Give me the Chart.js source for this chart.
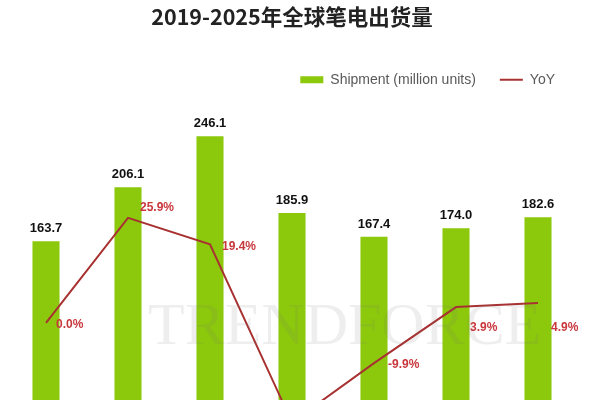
<!DOCTYPE html>
<html>
<head>
<meta charset="utf-8">
<script src="https://cdn.jsdelivr.net/npm/chart.js@4.4.1/dist/chart.umd.min.js"></script>
<style>
  html, body { margin: 0; padding: 0; background: #fff; overflow: hidden; }
  #wrap { position: relative; width: 600px; height: 460px; }
</style>
</head>
<body>
<div id="wrap"><canvas id="chart"></canvas></div>
<script>
// data
const years = ["2019", "2020", "2021", "2022", "2023", "2024", "2025"];
const shipments = [163.7, 206.1, 246.1, 185.9, 167.4, 174.0, 182.6];
const yoy = [0.0, 25.9, 19.4, -24.5, -9.9, 3.9, 4.9];

const GREEN = "#8cc90c";
const RED = "#a83232";
const LABEL_RED = "#c8373c";

// value labels + watermark
const labelPlugin = {
  id: "labels",
  afterDatasetsDraw(chart) {
    const ctx = chart.ctx;
    ctx.save();
    // watermark
    ctx.globalAlpha = 0.12;
    ctx.fillStyle = "#777";
    ctx.font = "60px 'Liberation Serif'";
    ctx.textAlign = "left";
    ctx.textBaseline = "alphabetic";
    ctx.fillText("TRENDFORCE", 148, 344);
    ctx.globalAlpha = 1;

    const bars = chart.getDatasetMeta(0).data;
    ctx.fillStyle = "#111";
    ctx.font = "bold 13px 'Liberation Sans'";
    ctx.textAlign = "center";
    ctx.textBaseline = "bottom";
    bars.forEach((b, i) => {
      ctx.fillText(shipments[i].toFixed(1), b.x, b.y - 6);
    });

    const pts = chart.getDatasetMeta(1).data;
    ctx.fillStyle = LABEL_RED;
    ctx.font = "bold 12px 'Liberation Sans'";
    ctx.textAlign = "left";
    ctx.textBaseline = "middle";
    const dx = [10, 12, 12, 10, 14, 14, 13];
    const dy = [2, -10, 2, 0, 2, 21, 25];
    pts.forEach((p, i) => {
      ctx.fillText(yoy[i].toFixed(1) + "%", p.x + dx[i], p.y + dy[i]);
    });
    ctx.restore();
  }
};

new Chart(document.getElementById("chart"), {
  data: {
    labels: years,
    datasets: [
      {
        type: "bar",
        label: "Shipment (million units)",
        data: shipments,
        backgroundColor: GREEN,
        barPercentage: 0.33,
        categoryPercentage: 1,
        yAxisID: "y",
        order: 2
      },
      {
        type: "line",
        label: "YoY",
        data: yoy,
        borderColor: RED,
        backgroundColor: RED,
        borderWidth: 2,
        pointRadius: 0,
        tension: 0,
        yAxisID: "y2",
        order: 1
      }
    ]
  },
  options: {
    responsive: true,
    maintainAspectRatio: false,
    animation: false,
    layout: { padding: { left: 5, right: 21, top: 4, bottom: 10 } },
    plugins: {
      title: {
        display: true,
        text: "2019-2025年全球笔电出货量",
        color: "#222",
        font: { family: "'Noto Sans CJK SC'", size: 21.5, weight: "bold" },
        padding: { top: 0, bottom: 19 }
      },
      legend: {
        display: true,
        align: "end",
        labels: {
          usePointStyle: true,
          pointStyleWidth: 23,
          boxHeight: 7,
          padding: 24,
          color: "#595959",
          font: { family: "'Liberation Sans'", size: 14 },
          generateLabels(chart) {
            return chart.data.datasets.map((ds, i) => ({
              text: ds.label,
              fillStyle: ds.type === "bar" ? GREEN : RED,
              strokeStyle: ds.type === "bar" ? GREEN : RED,
              lineWidth: ds.type === "bar" ? 0 : 2,
              pointStyle: ds.type === "bar" ? "rect" : "line",
              fontColor: "#595959",
              datasetIndex: i
            }));
          }
        }
      },
      tooltip: { enabled: false }
    },
    scales: {
      x: { display: false, grid: { display: false } },
      y: { display: false, min: 0, max: 277.1 },
      y2: { display: false, min: -31.33, max: 55.74 }
    }
  },
  plugins: [labelPlugin]
});
</script>
</body>
</html>
